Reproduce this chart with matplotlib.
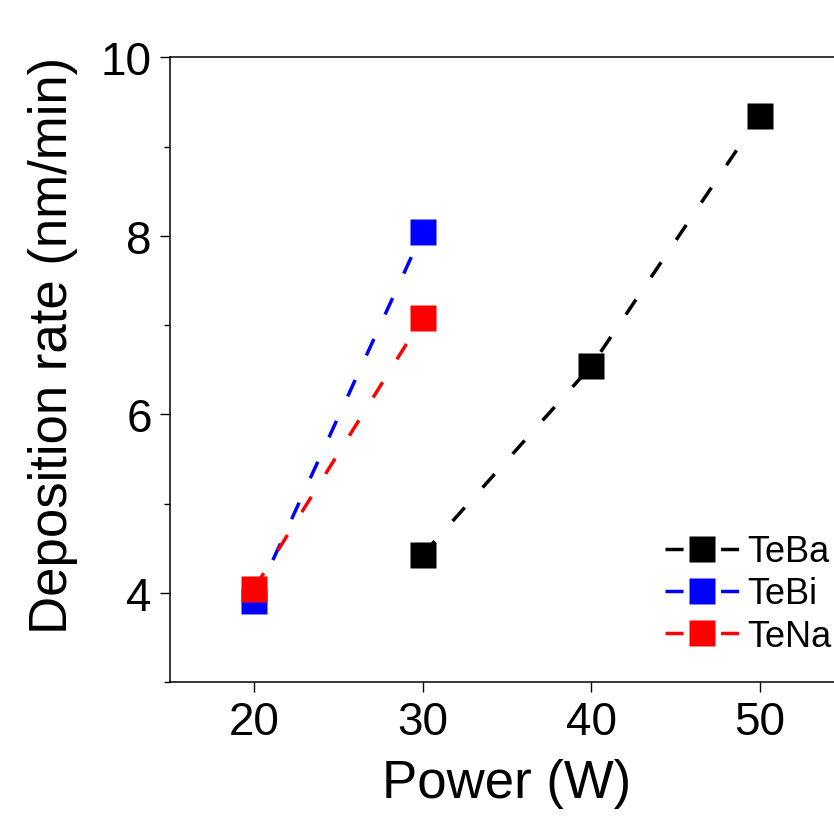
import matplotlib
matplotlib.use("Agg")
import matplotlib.pyplot as plt
from matplotlib.lines import Line2D
from matplotlib.ticker import MultipleLocator

# data
power_teba = [30, 40, 50]
rate_teba = [4.43, 6.54, 9.34]
power_tebi = [20, 30]
rate_tebi = [3.91, 8.04]
power_tena = [20, 30]
rate_tena = [4.05, 7.08]

series = [
    ("TeBa", power_teba, rate_teba, "black"),
    ("TeBi", power_tebi, rate_tebi, "blue"),
    ("TeNa", power_tena, rate_tena, "red"),
]

plt.rcParams["font.family"] = ["Liberation Sans", "DejaVu Sans"]
plt.rcParams["lines.scale_dashes"] = False

fig = plt.figure(figsize=(8.34, 8.28), dpi=100)
ax = fig.add_axes([0.2038, 0.1748, 1.0117 - 0.2038, 0.9296 - 0.1748])

ms = 18.7
lw = 2.5
handles = []
for name, xx, yy, col in series:
    ax.plot(xx, yy, ls=(0, (13, 19.4)), lw=lw, color=col, zorder=2)
    ax.plot(xx, yy, ls="none", marker="s", ms=ms, mec="none", color=col, zorder=3)
    handles.append(Line2D([], [], color=col, lw=lw, ls=(0, (13, 27)),
                          marker="s", ms=ms, mec="none", label=name))

ax.set_xlim(15, 55)
ax.set_ylim(3, 10)
ax.xaxis.set_major_locator(MultipleLocator(10))
ax.yaxis.set_major_locator(MultipleLocator(2))
ax.yaxis.set_minor_locator(MultipleLocator(1))

for side in ["left", "bottom", "top"]:
    ax.spines[side].set_linewidth(1.1)
ax.spines["right"].set_visible(False)

ax.tick_params(axis="both", which="major", direction="out", length=7, width=1.0,
               labelsize=33, pad=6, top=False, right=False)
ax.tick_params(axis="y", which="minor", direction="out", length=4, width=1.0)
ax.tick_params(axis="x", which="minor", bottom=False)

ax.set_xlabel("Power (W)", fontsize=38, labelpad=10)
ax.set_ylabel("Deposition rate (nm/min)", fontsize=38)
ax.yaxis.set_label_coords(-0.137, 0.54)

ax.legend(handles=handles, loc="upper left", bbox_to_anchor=(0.7348, 0.237), frameon=False,
          fontsize=26, handlelength=2.05, handletextpad=0.22, labelspacing=0.2,
          borderpad=0, borderaxespad=0)

fig.savefig("out.png", dpi=100)
